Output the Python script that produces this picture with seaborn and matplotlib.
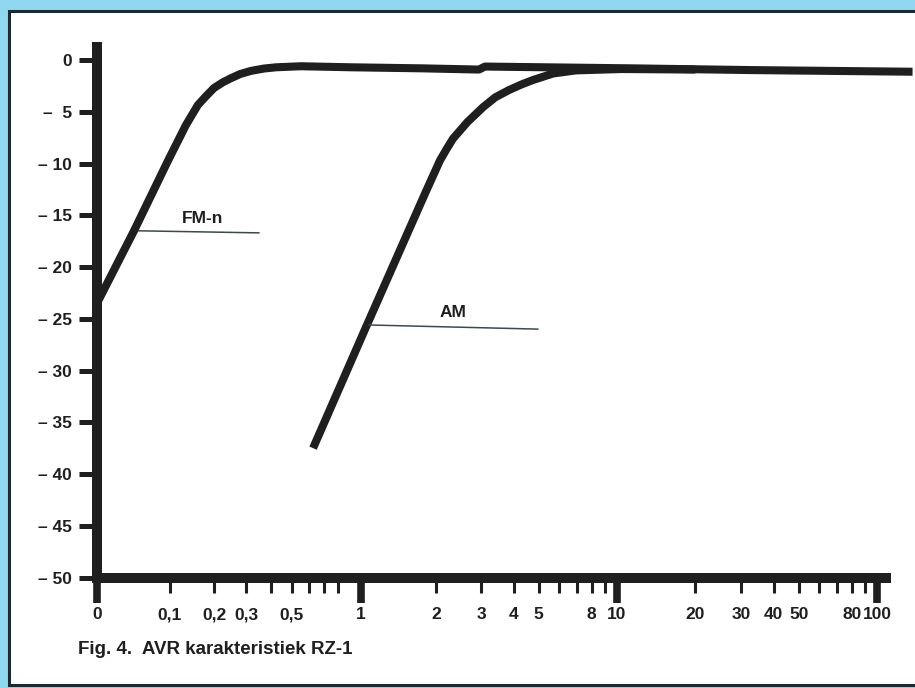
import numpy as np
import matplotlib
matplotlib.use("Agg")
import matplotlib.pyplot as plt
from matplotlib.patches import Rectangle
from matplotlib.ticker import FixedLocator, FixedFormatter
import seaborn as sns

# ---------------- data ----------------
fm_x = [0, 0.043, 0.097, 0.132, 0.159, 0.18, 0.20, 0.225, 0.25, 0.28, 0.318, 0.37, 0.423,
        0.551, 0.907, 1.745, 2.94, 3.1, 11.3, 32.7, 137]
fm_y = [-23.5, -16.5, -9.7, -6.3, -4.35, -3.45, -2.7, -2.15, -1.75, -1.35, -1.05, -0.82,
        -0.7, -0.6, -0.7, -0.8, -0.92, -0.63, -0.8, -0.97, -1.13]

am_x = [0.624, 1.048, 1.81, 2.073, 2.2, 2.33, 2.65, 3.05, 3.4, 3.84, 4.3, 4.75, 5.68, 6.95,
        10.4, 20]
am_y = [-37.5, -25.8, -12.9, -9.7, -8.6, -7.6, -6.0, -4.55, -3.6, -2.9, -2.35, -1.93,
        -1.3, -1.0, -0.87, -0.92]

x_ticks = [0, 0.1, 0.2, 0.3, 0.4, 0.5, 0.6, 0.7, 0.8, 1, 2, 3, 4, 5, 6, 7, 8, 9, 10,
           20, 30, 40, 50, 60, 70, 80, 90, 100]
x_labels = ["0", "0,1", "0,2", "0,3", "", "0,5", "", "", "", "1", "2", "3", "4", "5", "", "",
            "8", "", "10", "20", "30", "40", "50", "", "", "80", "", "100"]
x_major = [0, 1, 10, 100]

y_ticks = [0, -5, -10, -15, -20, -25, -30, -35, -40, -45, -50]
y_labels = ["0", "\u2013  5", "\u2013 10", "\u2013 15", "\u2013 20", "\u2013 25", "\u2013 30",
            "\u2013 35", "\u2013 40", "\u2013 45", "\u2013 50"]

fm_label = ("FM-n", 0.17, -15.3)
fm_pointer_x = [0.049, 0.35]
fm_pointer_y = [-16.5, -16.7]
am_label = ("AM", 2.33, -24.4)
am_pointer_x = [1.078, 4.97]
am_pointer_y = [-25.6, -26.0]

caption = "Fig. 4.  AVR karakteristiek RZ-1"

# ---------------- style ----------------
sns.set_theme(style="white")
plt.rcParams["font.family"] = ["Liberation Sans", "DejaVu Sans"]
plt.rcParams["font.weight"] = "bold"

ink = "#1f1f1f"
cyan = "#8fd8f0"

fig = plt.figure(figsize=(9.15, 6.88), dpi=100, facecolor=cyan)
W, H = 915, 688
panel = Rectangle((9 / W, 1 - 685 / H), 1.2, (685 - 11) / H, transform=fig.transFigure,
                  facecolor="white", edgecolor="#1b2a30", linewidth=2.2, zorder=-10)
fig.patches.append(panel)

ax = fig.add_axes([97 / W, 1 - 577.5 / H, (886 - 97) / W, (577.5 - 47) / H])
ax.set_facecolor("none")


def fwd(x):
    x = np.asarray(x, dtype=float)
    v = x + 0.1 * np.exp(-x)
    return np.log10(np.clip(v, 1e-6, None))


_xg = np.concatenate([np.linspace(-0.05, 2, 4000), np.logspace(np.log10(2.001), 4, 4000)])
_ug = fwd(_xg)


def inv(u):
    return np.interp(np.asarray(u, dtype=float), _ug, _xg)


ax.set_xscale("function", functions=(fwd, inv))
ax.set_xlim(0, 108.3)
ax.set_ylim(-50, 1.26)

sns.lineplot(x=fm_x, y=fm_y, ax=ax, color=ink, linewidth=5.8, sort=False, estimator=None)
sns.lineplot(x=am_x, y=am_y, ax=ax, color=ink, linewidth=5.8, sort=False, estimator=None)
for ln in ax.lines:
    ln.set_clip_on(False)
    ln.set_solid_capstyle("butt")
    ln.set_solid_joinstyle("round")

ax.plot(fm_pointer_x, fm_pointer_y, color="#3c4a42", linewidth=1.1)
ax.plot(am_pointer_x, am_pointer_y, color="#3c4a52", linewidth=1.1)
ax.text(fm_label[1], fm_label[2], fm_label[0], fontsize=12.5, fontweight="bold",
        ha="center", va="center", color=ink)
ax.text(am_label[1], am_label[2], am_label[0], fontsize=12.5, fontweight="bold",
        ha="center", va="center", color=ink)

for s in ["top", "right"]:
    ax.spines[s].set_visible(False)
for s in ["left", "bottom"]:
    ax.spines[s].set_linewidth(7.2)
    ax.spines[s].set_color(ink)
    ax.spines[s].set_capstyle("projecting")

ax.xaxis.set_major_locator(FixedLocator(x_ticks))
ax.xaxis.set_major_formatter(FixedFormatter(x_labels))
ax.xaxis.set_minor_locator(FixedLocator([]))
ax.yaxis.set_major_locator(FixedLocator(y_ticks))
ax.yaxis.set_major_formatter(FixedFormatter(y_labels))

ax.tick_params(axis="x", which="major", direction="out", length=11, width=2.2, color=ink,
               pad=19, labelsize=12.5, labelcolor=ink, bottom=True)
ax.tick_params(axis="y", which="major", direction="out", length=13, width=3.6, color=ink,
               pad=5, labelsize=12.5, labelcolor=ink, left=True)

for t, loc in zip(ax.xaxis.get_major_ticks(), x_ticks):
    t.label1.set_fontweight("bold")
    t.label1.set_verticalalignment("baseline")
    if loc in x_major:
        t.tick1line.set_markersize(18)
        t.tick1line.set_markeredgewidth(5.5)
for lab in ax.get_yticklabels():
    lab.set_fontweight("bold")

ax.set_xlabel("")
ax.set_ylabel("")
ax.grid(False)

fig.text(78 / W, 1 - 650 / H, caption, fontsize=13.5, fontweight="bold", ha="left",
         va="center", color=ink)

fig.savefig("out.png", dpi=100, facecolor=cyan)
